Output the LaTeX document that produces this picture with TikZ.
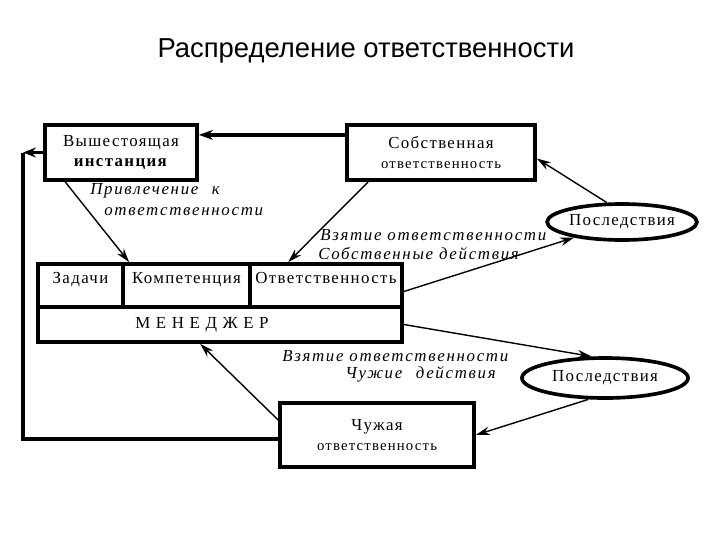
\documentclass[tikz,border=0pt]{standalone}
\usepackage{fontspec}
\setmainfont{Liberation Serif}
\newfontfamily\titlefont{Liberation Sans}
\newfontfamily\boxfont[LetterSpace=8]{Liberation Serif}
\newfontfamily\labelfont[LetterSpace=10]{Liberation Serif}
\usetikzlibrary{arrows.meta,calc,shapes.geometric}

\tikzset{
  box/.style={draw, rectangle, line width=2.6pt, inner sep=0pt, align=center,
    font=\boxfont\fontsize{12}{14}\selectfont},
  cell/.style={box, minimum height=1.075cm, text height=9pt, text depth=12pt},
  conseq/.style={draw, ellipse, line width=2.6pt, inner sep=0pt,
    font=\boxfont\fontsize{12}{14}\selectfont},
  note/.style={anchor=west, inner sep=0pt, font=\labelfont\itshape\fontsize{12}{14}\selectfont},
  thinarrow/.style={line width=1pt, -{Stealth[length=10pt,width=6pt]}},
  thickline/.style={line width=2.6pt},
}

\begin{document}
\begin{tikzpicture}[x=0.025cm,y=-0.025cm]
  \useasboundingbox (0,0) rectangle (720,540);

  % title
  \node[font=\titlefont\fontsize{19.5}{22}\selectfont] (title) at (366,51) {Распределение ответственности};

  % boxes
  \node[box, minimum width=3.8cm, minimum height=1.375cm] (inst) at (121,152.5)
    {Вышестоящая\\\textbf{инстанция}};
  \node[box, minimum width=4.7cm, minimum height=1.375cm] (own) at (441,152.5)
    {Собственная\\{\fontsize{10.5}{14}\selectfont ответственность}};
  \node[box, minimum width=4.85cm, minimum height=1.6cm] (alien) at (377,435)
    {Чужая\\{\fontsize{10.5}{14}\selectfont ответственность}};

  % manager
  \node[cell, minimum width=2.125cm] (tasks) at (80.5,285.5) {Задачи};
  \node[cell, minimum width=3.175cm] (comp) at (186.5,285.5) {Компетенция};
  \node[cell, minimum width=3.8cm] (resp) at (326,285.5) {Ответственность};
  \node[box, minimum width=9.1cm, minimum height=0.875cm] (man) at (220,324.5)
    {М Е Н Е Д Ж Е Р\hspace*{0.9cm}};

  % consequences
  \node[conseq, minimum width=3.2cm, minimum height=0.9cm] (cons1) at (622,222) {Последствия};
  \node[conseq, minimum width=4.15cm, minimum height=1cm] (cons2) at (605,378) {Последствия};

  % connectors
  \coordinate (s1) at ($(own.north west)!0.2!(own.south west)$);
  \draw[thickline, -{Stealth[length=10pt,width=7pt]}] (s1) -- (s1 -| inst.east);

  \coordinate (corner) at ([xshift=-0.5cm]inst.west);
  \draw[thickline] ([yshift=-0.1cm]alien.west) -| (corner);
  \draw[line width=2pt, -{Stealth[length=9pt,width=7pt]}] (inst.west) -- (corner);

  \draw[thinarrow] ([xshift=0.55cm]inst.south west) -- ([xshift=0.2cm]comp.north west);
  \draw[thinarrow] ([xshift=0.575cm]own.south west) -- ([xshift=1cm]resp.north west);
  \draw[thinarrow] ([yshift=-0.15cm]resp.east) -- (cons1.198);
  \draw[thinarrow] (cons1.128) -- ([yshift=-0.15cm]own.east);
  \draw[thinarrow] (man.east) -- (cons2.122);
  \draw[thinarrow] (cons2.232) -- (alien.east);
  \draw[thinarrow] ([yshift=0.375cm]alien.west) -- ([xshift=4.1cm]man.south west);

  % labels
  \node[note] (inv1) at (90,191) {Привлечение\hspace{0.8em}к};
  \node[note] (inv2) at (104,212) {ответственности};
  \node[note] (take1) at (320,235) {Взятие ответственности};
  \node[note] (take2) at (318,254) {Собственные действия};
  \node[note] (take3) at (282,356) {Взятие ответственности};
  \node[note] (take4) at (345,374) {Чужие\hspace{0.8em}действия};
\end{tikzpicture}
\end{document}
